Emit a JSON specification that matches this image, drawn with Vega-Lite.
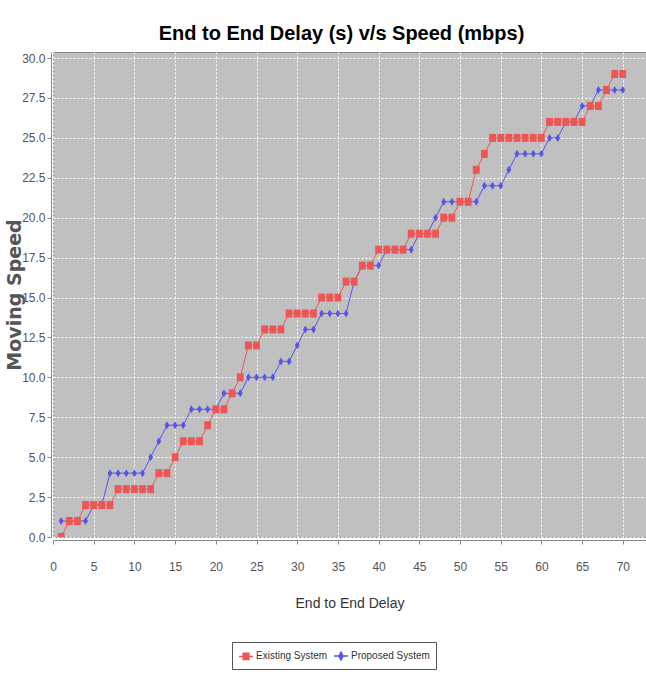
{
  "$schema": "https://vega.github.io/schema/vega-lite/v6.json",
  "autosize": "none",
  "width": 593,
  "height": 485,
  "padding": {"left": 53, "top": 52, "right": 0, "bottom": 138},
  "background": "white",
  "title": {
    "text": "End to End Delay (s) v/s Speed (mbps)",
    "font": "Liberation Sans, sans-serif",
    "fontWeight": "bold",
    "fontSize": 20,
    "color": "#000000",
    "anchor": "middle",
    "dx": -8,
    "offset": 8
  },
  "config": {
    "view": {"fill": "#C0C0C0", "stroke": "#888888", "strokeWidth": 1},
    "axis": {
      "labelFont": "Liberation Sans, sans-serif",
      "labelFontSize": 12,
      "labelColor": "#555555",
      "domainColor": "#888888",
      "tickColor": "#888888",
      "gridColor": "#FFFFFF",
      "gridDash": [2, 2],
      "gridWidth": 1,
      "gridOpacity": 1
    }
  },
  "data": {
    "values": [
      {"x": 1, "series": "Proposed System", "y": 1},
      {"x": 2, "series": "Proposed System", "y": 1},
      {"x": 3, "series": "Proposed System", "y": 1},
      {"x": 4, "series": "Proposed System", "y": 1},
      {"x": 5, "series": "Proposed System", "y": 2},
      {"x": 6, "series": "Proposed System", "y": 2},
      {"x": 7, "series": "Proposed System", "y": 4},
      {"x": 8, "series": "Proposed System", "y": 4},
      {"x": 9, "series": "Proposed System", "y": 4},
      {"x": 10, "series": "Proposed System", "y": 4},
      {"x": 11, "series": "Proposed System", "y": 4},
      {"x": 12, "series": "Proposed System", "y": 5},
      {"x": 13, "series": "Proposed System", "y": 6},
      {"x": 14, "series": "Proposed System", "y": 7},
      {"x": 15, "series": "Proposed System", "y": 7},
      {"x": 16, "series": "Proposed System", "y": 7},
      {"x": 17, "series": "Proposed System", "y": 8},
      {"x": 18, "series": "Proposed System", "y": 8},
      {"x": 19, "series": "Proposed System", "y": 8},
      {"x": 20, "series": "Proposed System", "y": 8},
      {"x": 21, "series": "Proposed System", "y": 9},
      {"x": 22, "series": "Proposed System", "y": 9},
      {"x": 23, "series": "Proposed System", "y": 9},
      {"x": 24, "series": "Proposed System", "y": 10},
      {"x": 25, "series": "Proposed System", "y": 10},
      {"x": 26, "series": "Proposed System", "y": 10},
      {"x": 27, "series": "Proposed System", "y": 10},
      {"x": 28, "series": "Proposed System", "y": 11},
      {"x": 29, "series": "Proposed System", "y": 11},
      {"x": 30, "series": "Proposed System", "y": 12},
      {"x": 31, "series": "Proposed System", "y": 13},
      {"x": 32, "series": "Proposed System", "y": 13},
      {"x": 33, "series": "Proposed System", "y": 14},
      {"x": 34, "series": "Proposed System", "y": 14},
      {"x": 35, "series": "Proposed System", "y": 14},
      {"x": 36, "series": "Proposed System", "y": 14},
      {"x": 37, "series": "Proposed System", "y": 16},
      {"x": 38, "series": "Proposed System", "y": 17},
      {"x": 39, "series": "Proposed System", "y": 17},
      {"x": 40, "series": "Proposed System", "y": 17},
      {"x": 41, "series": "Proposed System", "y": 18},
      {"x": 42, "series": "Proposed System", "y": 18},
      {"x": 43, "series": "Proposed System", "y": 18},
      {"x": 44, "series": "Proposed System", "y": 18},
      {"x": 45, "series": "Proposed System", "y": 19},
      {"x": 46, "series": "Proposed System", "y": 19},
      {"x": 47, "series": "Proposed System", "y": 20},
      {"x": 48, "series": "Proposed System", "y": 21},
      {"x": 49, "series": "Proposed System", "y": 21},
      {"x": 50, "series": "Proposed System", "y": 21},
      {"x": 51, "series": "Proposed System", "y": 21},
      {"x": 52, "series": "Proposed System", "y": 21},
      {"x": 53, "series": "Proposed System", "y": 22},
      {"x": 54, "series": "Proposed System", "y": 22},
      {"x": 55, "series": "Proposed System", "y": 22},
      {"x": 56, "series": "Proposed System", "y": 23},
      {"x": 57, "series": "Proposed System", "y": 24},
      {"x": 58, "series": "Proposed System", "y": 24},
      {"x": 59, "series": "Proposed System", "y": 24},
      {"x": 60, "series": "Proposed System", "y": 24},
      {"x": 61, "series": "Proposed System", "y": 25},
      {"x": 62, "series": "Proposed System", "y": 25},
      {"x": 63, "series": "Proposed System", "y": 26},
      {"x": 64, "series": "Proposed System", "y": 26},
      {"x": 65, "series": "Proposed System", "y": 27},
      {"x": 66, "series": "Proposed System", "y": 27},
      {"x": 67, "series": "Proposed System", "y": 28},
      {"x": 68, "series": "Proposed System", "y": 28},
      {"x": 69, "series": "Proposed System", "y": 28},
      {"x": 70, "series": "Proposed System", "y": 28},
      {"x": 1, "series": "Existing System", "y": 0},
      {"x": 2, "series": "Existing System", "y": 1},
      {"x": 3, "series": "Existing System", "y": 1},
      {"x": 4, "series": "Existing System", "y": 2},
      {"x": 5, "series": "Existing System", "y": 2},
      {"x": 6, "series": "Existing System", "y": 2},
      {"x": 7, "series": "Existing System", "y": 2},
      {"x": 8, "series": "Existing System", "y": 3},
      {"x": 9, "series": "Existing System", "y": 3},
      {"x": 10, "series": "Existing System", "y": 3},
      {"x": 11, "series": "Existing System", "y": 3},
      {"x": 12, "series": "Existing System", "y": 3},
      {"x": 13, "series": "Existing System", "y": 4},
      {"x": 14, "series": "Existing System", "y": 4},
      {"x": 15, "series": "Existing System", "y": 5},
      {"x": 16, "series": "Existing System", "y": 6},
      {"x": 17, "series": "Existing System", "y": 6},
      {"x": 18, "series": "Existing System", "y": 6},
      {"x": 19, "series": "Existing System", "y": 7},
      {"x": 20, "series": "Existing System", "y": 8},
      {"x": 21, "series": "Existing System", "y": 8},
      {"x": 22, "series": "Existing System", "y": 9},
      {"x": 23, "series": "Existing System", "y": 10},
      {"x": 24, "series": "Existing System", "y": 12},
      {"x": 25, "series": "Existing System", "y": 12},
      {"x": 26, "series": "Existing System", "y": 13},
      {"x": 27, "series": "Existing System", "y": 13},
      {"x": 28, "series": "Existing System", "y": 13},
      {"x": 29, "series": "Existing System", "y": 14},
      {"x": 30, "series": "Existing System", "y": 14},
      {"x": 31, "series": "Existing System", "y": 14},
      {"x": 32, "series": "Existing System", "y": 14},
      {"x": 33, "series": "Existing System", "y": 15},
      {"x": 34, "series": "Existing System", "y": 15},
      {"x": 35, "series": "Existing System", "y": 15},
      {"x": 36, "series": "Existing System", "y": 16},
      {"x": 37, "series": "Existing System", "y": 16},
      {"x": 38, "series": "Existing System", "y": 17},
      {"x": 39, "series": "Existing System", "y": 17},
      {"x": 40, "series": "Existing System", "y": 18},
      {"x": 41, "series": "Existing System", "y": 18},
      {"x": 42, "series": "Existing System", "y": 18},
      {"x": 43, "series": "Existing System", "y": 18},
      {"x": 44, "series": "Existing System", "y": 19},
      {"x": 45, "series": "Existing System", "y": 19},
      {"x": 46, "series": "Existing System", "y": 19},
      {"x": 47, "series": "Existing System", "y": 19},
      {"x": 48, "series": "Existing System", "y": 20},
      {"x": 49, "series": "Existing System", "y": 20},
      {"x": 50, "series": "Existing System", "y": 21},
      {"x": 51, "series": "Existing System", "y": 21},
      {"x": 52, "series": "Existing System", "y": 23},
      {"x": 53, "series": "Existing System", "y": 24},
      {"x": 54, "series": "Existing System", "y": 25},
      {"x": 55, "series": "Existing System", "y": 25},
      {"x": 56, "series": "Existing System", "y": 25},
      {"x": 57, "series": "Existing System", "y": 25},
      {"x": 58, "series": "Existing System", "y": 25},
      {"x": 59, "series": "Existing System", "y": 25},
      {"x": 60, "series": "Existing System", "y": 25},
      {"x": 61, "series": "Existing System", "y": 26},
      {"x": 62, "series": "Existing System", "y": 26},
      {"x": 63, "series": "Existing System", "y": 26},
      {"x": 64, "series": "Existing System", "y": 26},
      {"x": 65, "series": "Existing System", "y": 26},
      {"x": 66, "series": "Existing System", "y": 27},
      {"x": 67, "series": "Existing System", "y": 27},
      {"x": 68, "series": "Existing System", "y": 28},
      {"x": 69, "series": "Existing System", "y": 29},
      {"x": 70, "series": "Existing System", "y": 29}
    ]
  },
  "encoding": {
    "x": {
      "field": "x",
      "type": "quantitative",
      "scale": {"domain": [0, 72.85], "nice": false, "zero": false},
      "axis": {
        "values": [0, 5, 10, 15, 20, 25, 30, 35, 40, 45, 50, 55, 60, 65, 70],
        "title": "End to End Delay",
        "titleFont": "Liberation Sans, sans-serif",
        "titleFontSize": 14,
        "titleFontWeight": "normal",
        "titleColor": "#333333",
        "titlePadding": 24,
        "offset": 3,
        "tickSize": 4,
        "labelPadding": 17,
        "labelFlush": false
      }
    },
    "y": {
      "field": "y",
      "type": "quantitative",
      "scale": {"domain": [0, 30.38], "nice": false, "zero": false},
      "axis": {
        "values": [0, 2.5, 5, 7.5, 10, 12.5, 15, 17.5, 20, 22.5, 25, 27.5, 30],
        "format": ".1f",
        "title": "Moving Speed",
        "titleFont": "DejaVu Sans, sans-serif",
        "titleFontSize": 19,
        "titleFontWeight": "bold",
        "titleColor": "#555555",
        "titlePadding": -3,
        "offset": 2,
        "tickSize": 4,
        "labelPadding": 2,
        "labelFlush": false
      }
    },
    "color": {
      "field": "series",
      "type": "nominal",
      "scale": {"domain": ["Existing System", "Proposed System"], "range": ["#EE5555", "#5555EE"]},
      "legend": {
        "title": null,
        "orient": "none",
        "legendX": 179,
        "legendY": 590,
        "direction": "horizontal",
        "strokeColor": "#555555",
        "fillColor": "#FFFFFF",
        "padding": 6,
        "labelFont": "Liberation Sans, sans-serif",
        "labelFontSize": 10,
        "labelColor": "#333333",
        "labelOffset": 2,
        "columnPadding": 3,
        "symbolSize": 196,
        "symbolStrokeWidth": 1.5,
        "encode": {
          "symbols": {
            "update": {
              "shape": {"signal": "datum.value === 'Existing System' ? 'M-1,0H1M-0.4,-0.45H0.4V0.45H-0.4Z' : 'M-1,0H1M0,-0.55L0.3,0L0,0.55L-0.3,0Z'"},
              "fill": {"signal": "datum.value === 'Existing System' ? '#EE5555' : '#5555EE'"},
              "stroke": {"signal": "datum.value === 'Existing System' ? '#EE5555' : '#5555EE'"},
              "fillOpacity": {"value": 1},
              "strokeWidth": {"value": 1.5}
            }
          }
        }
      }
    }
  },
  "layer": [
    {
      "mark": {"type": "line", "strokeWidth": 1, "clip": true},
      "encoding": {"detail": {"field": "series"}}
    },
    {
      "transform": [{"filter": "datum.series === 'Proposed System'"}],
      "mark": {"type": "point", "filled": true, "opacity": 1, "clip": true, "shape": "M0,-1L0.6,0L0,1L-0.6,0Z", "size": 64}
    },
    {
      "transform": [{"filter": "datum.series === 'Existing System'"}],
      "mark": {"type": "point", "filled": true, "opacity": 1, "clip": true, "shape": "M-0.85,-1H0.85V1H-0.85Z", "size": 64}
    }
  ]
}
